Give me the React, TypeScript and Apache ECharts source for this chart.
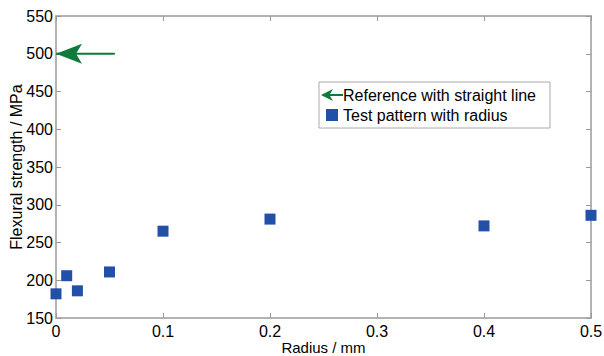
import React, { useEffect, useRef } from "react";
import * as echarts from "echarts";

const radius = [0, 0.01, 0.02, 0.05, 0.1, 0.2, 0.4, 0.5];
const strength = [182, 206, 186, 211, 265, 281, 272, 286];
const referenceX = [0, 0.055];
const referenceY = [500, 500];
const xTicks = [0, 0.1, 0.2, 0.3, 0.4, 0.5];
const yTicks = [150, 200, 250, 300, 350, 400, 450, 500, 550];

const FONT = "'Liberation Sans', Arial, sans-serif";
const AXIS_GRAY = "#9a9a9a";
const GREEN = "#0f7a3a";
const BLUE = "#2150a6";
const ARROW_HEAD = "path://M0,10 L26,0 L20,10 L26,20 Z";
const LEGEND_ARROW = "path://M0,6 L12,0 L9,5 L22,5 L22,7 L9,7 L12,12 Z";

export default function App() {
  const ref = useRef<HTMLDivElement>(null);
  useEffect(() => {
    const chart = echarts.init(ref.current!, undefined, { renderer: "svg" });
    const baseX = {
      type: "value" as const,
      min: xTicks[0],
      max: xTicks[xTicks.length - 1],
      interval: 0.1,
      splitLine: { show: false },
      axisLine: { show: true, onZero: false, lineStyle: { color: AXIS_GRAY, width: 1.5 } },
      axisTick: { show: true, inside: true, length: 5, lineStyle: { color: AXIS_GRAY } },
    };
    const baseY = {
      type: "value" as const,
      min: yTicks[0],
      max: yTicks[yTicks.length - 1],
      interval: 50,
      splitLine: { show: false },
      axisLine: { show: true, onZero: false, lineStyle: { color: AXIS_GRAY, width: 1.5 } },
      axisTick: { show: true, inside: true, length: 5, lineStyle: { color: AXIS_GRAY } },
    };
    chart.setOption({
      animation: false,
      backgroundColor: "#ffffff",
      textStyle: { fontFamily: FONT },
      grid: { left: 56, right: 13, top: 16, bottom: 38, containLabel: false, outerBoundsMode: "none" },
      legend: {
        left: 319,
        top: 82,
        orient: "vertical",
        borderColor: "#aaaaaa",
        borderWidth: 1,
        padding: [5, 14, 5, 2],
        itemGap: 4,
        itemWidth: 22,
        itemHeight: 12,
        textStyle: { fontFamily: FONT, fontSize: 16, color: "#000", padding: [0, 0, 0, -5] },
        data: [
          { name: "Reference with straight line", icon: LEGEND_ARROW, itemStyle: { color: GREEN } },
          { name: "Test pattern with radius", icon: "path://M6,1 L16,1 L16,11 L6,11 Z", itemStyle: { color: BLUE, opacity: 1 } },
        ],
      },
      xAxis: [
        {
          ...baseX,
          position: "bottom",
          name: "Radius / mm",
          nameLocation: "middle",
          nameGap: 22,
          nameMoveOverlap: false,
          nameTextStyle: { fontFamily: FONT, fontSize: 15, color: "#000", verticalAlign: "top" },
          axisLabel: { fontFamily: FONT, fontSize: 16, color: "#000", margin: 5 },
        },
        { ...baseX, position: "top", axisLabel: { show: false } },
      ],
      yAxis: [
        {
          ...baseY,
          position: "left",
          name: "Flexural strength / MPa",
          nameLocation: "middle",
          nameGap: 32,
          nameMoveOverlap: false,
          nameTextStyle: { fontFamily: FONT, fontSize: 16, color: "#000" },
          axisLabel: { fontFamily: FONT, fontSize: 16, color: "#000", margin: 3 },
        },
        { ...baseY, position: "right", axisLabel: { show: false } },
      ],
      series: [
        {
          name: "Reference with straight line",
          type: "line",
          clip: false,
          xAxisIndex: 0,
          yAxisIndex: 0,
          lineStyle: { color: GREEN, width: 2 },
          itemStyle: { color: GREEN },
          data: [
            {
              value: [referenceX[0], referenceY[0]],
              symbol: ARROW_HEAD,
              symbolSize: [26, 20],
              symbolOffset: [13, 0],
            },
            { value: [referenceX[1], referenceY[1]], symbol: "none" },
          ],
        },
        {
          name: "Test pattern with radius",
          type: "scatter",
          xAxisIndex: 0,
          yAxisIndex: 0,
          clip: false,
          symbol: "rect",
          symbolSize: 11,
          itemStyle: { color: BLUE, opacity: 1 },
          data: radius.map((r, i) => [r, strength[i]]),
        },
      ],
    });
    return () => chart.dispose();
  }, []);
  return <div ref={ref} style={{ width: 604, height: 356, position: "absolute", left: 0, top: 0 }} />;
}
